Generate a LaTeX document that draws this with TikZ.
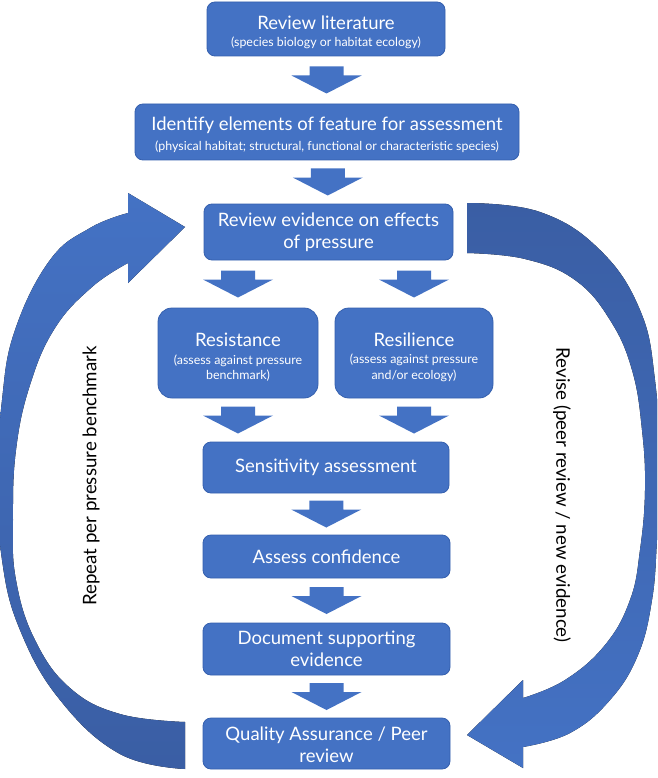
\documentclass[tikz,border=0pt]{standalone}
\usepackage{fontspec}
\setmainfont{Lato}
\usetikzlibrary{calc}
\definecolor{boxblue}{HTML}{4472C4}
\definecolor{boxedge}{HTML}{3560AE}
\definecolor{darkblue}{HTML}{3A5EA4}
\tikzset{
  box/.style={draw=boxedge, line width=0.8pt, fill=boxblue, rounded corners=8pt, inner sep=0pt},
  bigbox/.style={box, rounded corners=14pt},
  ttl/.style={text=white, inner sep=0pt, align=center, font=\fontsize{18.5}{22}\selectfont},
  subt/.style={text=white, inner sep=0pt, align=center, font=\fontsize{12.4}{15.5}\selectfont},
  side/.style={text=black, inner sep=0pt, font=\fontsize{18.7}{22}\selectfont},
  dnarrow/.pic={\fill[boxblue] (-17,-13.5) -- (17,-13.5) -- (17,-4.5) -- (35,-4.5) -- (0,13.5) -- (-35,-4.5) -- (-17,-4.5) -- cycle;}
}
\begin{document}
\begin{tikzpicture}[x=1pt,y=-1pt]
\path[use as bounding box, clip] (0,0) rectangle (657,778);
\fill[white] (0,0) rectangle (657,778);

% boxes
\node[box, minimum width=238, minimum height=54] (b1) at (326,29) {};
\node[box, minimum width=384, minimum height=56] (b2) at (327,132) {};
\node[box, minimum width=249, minimum height=56] (b3) at (328.5,232) {};
\node[bigbox, minimum width=160, minimum height=90] (res) at (238,353) {};
\node[bigbox, minimum width=158, minimum height=90] (rsl) at (414,353) {};
\node[box, minimum width=246, minimum height=51] (sen) at (326,467.5) {};
\node[box, minimum width=247, minimum height=43] (con) at (326.5,556.5) {};
\node[box, minimum width=247, minimum height=52] (doc) at (326.5,649) {};
\node[box, minimum width=247, minimum height=51] (qa) at (326.5,743.5) {};

% texts
\node[ttl] (b1t) at (326,22.5) {Review literature};
\node[subt] (b1s) at (326,42.5) {(species biology or habitat ecology)};
\node[ttl] (b2t) at (327,125.5) {Identify elements of feature for assessment};
\node[subt] (b2s) at (327,146.5) {(physical habitat; structural, functional or characteristic species)};
\node[ttl] (b3t) at (328.5,232) {Review evidence on effects\\of pressure};
\node[ttl] (rest) at (238,340) {Resistance};
\node[subt] (ress) at (238,368) {(assess against pressure\\benchmark)};
\node[ttl] (rslt) at (414,340) {Resilience};
\node[subt] (rsls) at (414,368) {(assess against pressure\\and/or ecology)};
\node[ttl] (sent) at (326,467) {Sensitivity assessment};
\node[ttl] (cont) at (326.5,556.5) {Assess confidence};
\node[ttl] (doct) at (326.5,649) {Document supporting\\evidence};
\node[ttl] (qat) at (326.5,745) {Quality Assurance / Peer\\review};

% block arrows
\pic at ($(b1.south)!0.5!(b2.north)$) {dnarrow};
\pic at ($(b2.south)!0.5!(b3.north)$) {dnarrow};
\pic at ($(b3.south -| res)!0.5!(res.north)$) {dnarrow};
\pic at ($(b3.south -| rsl)!0.5!(rsl.north)$) {dnarrow};
\pic at ($(res.south)!0.5!(sen.north -| res)$) {dnarrow};
\pic at ($(rsl.south)!0.5!(sen.north -| rsl)$) {dnarrow};
\pic at ($(sen.south)!0.5!(con.north)$) {dnarrow};
\pic at ($(con.south)!0.5!(doc.north)$) {dnarrow};
\pic at ($(doc.south)!0.5!(qa.north)$) {dnarrow};

% left curved arrow (repeat)
\fill[top color=boxblue, bottom color=darkblue]
  plot[smooth, tension=0.7] coordinates {(185,769) (120,754) (60,700) (20,630) (2,560) (-2,480) (2,400) (15,330) (50,260) (90,228) (128,213)}
  -- (128,193) -- (185,227) -- (128,283) -- (128,263)
  -- plot[smooth, tension=0.7] coordinates {(128,263) (92,287) (55,328) (30,385) (16,450) (13,520) (16,580) (35,640) (70,688) (120,714) (185,722)}
  -- cycle;

% right curved arrow (revise)
\fill[top color=darkblue, bottom color=boxblue]
  plot[smooth, tension=0.7] coordinates {(467,203) (540,212) (600,250) (640,310) (655,380) (660,470) (657,540) (652,600) (638,655) (610,700) (570,733) (523,747)}
  -- (523,768) -- (467,735) -- (523,680) -- (523,698)
  -- plot[smooth, tension=0.7] coordinates {(523,698) (565,680) (605,645) (630,600) (640,550) (645,490) (642,430) (632,370) (610,320) (575,280) (525,259) (467,253)}
  -- cycle;

% side labels
\node[side, rotate=90] (rep) at (91,476) {Repeat per pressure benchmark};
\node[side, rotate=-90] (rev) at (562,495) {Revise (peer review / new evidence)};
\end{tikzpicture}
\end{document}
